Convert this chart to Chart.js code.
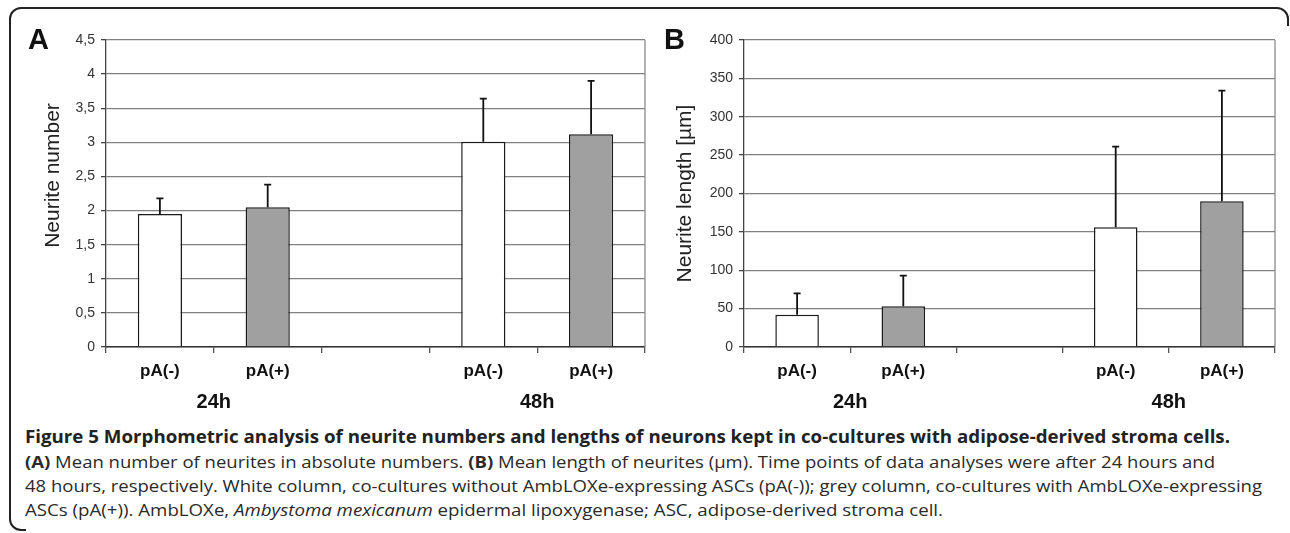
<!DOCTYPE html>
<html>
<head>
<meta charset="utf-8">
<script src="https://cdn.jsdelivr.net/npm/chart.js@4.4.1/dist/chart.umd.min.js"></script>
<style>
    body {
        margin: 0;
        background: #fff;
        width: 1290px;
        height: 533px;
        overflow: hidden;
        position: relative;
        font-family: 'Liberation Sans', Arial, sans-serif;
    }
    .moldura {
        position: absolute;
        left: 9px; top: 7px;
        width: 1276px; height: 520px;
        border: 2px solid #222;
        border-radius: 12px;
    }
    .tampa1 { position: absolute; left: 1278px; top: 26px; width: 12px; height: 507px; background: #fff; }
    .tampa2 { position: absolute; left: 26px; top: 521px; width: 1264px; height: 12px; background: #fff; }
    canvas { position: absolute; top: 0; }
    #graficoA { left: 0; }
    #graficoB { left: 650px; }
    .letra {
        position: absolute;
        top: 25px;
        font: bold 29px/29px 'Liberation Sans', Arial, sans-serif;
        color: #111;
    }
    .linha {
        position: absolute;
        left: 25px;
        font-family: 'Open Sans', sans-serif;
        font-size: 16px;
        line-height: 20px;
        color: #2a2a2a;
        white-space: nowrap;
        transform-origin: left center;
    }
    .titulo { font-weight: bold; font-size: 17px; color: #222; }
</style>
</head>
<body>
<div class="moldura"></div>
<div class="tampa1"></div>
<div class="tampa2"></div>
<canvas id="graficoA" width="650" height="420"></canvas>
<canvas id="graficoB" width="640" height="420"></canvas>
<div class="letra" style="left:28px">A</div>
<div class="letra" style="left:664px">B</div>

<div class="linha titulo" style="top:427px" data-fim="1230">Figure 5 Morphometric analysis of neurite numbers and lengths of neurons kept in co-cultures with adipose-derived stroma cells.</div>
<div class="linha" style="top:452px" data-fim="1215"><b>(A)</b> Mean number of neurites in absolute numbers. <b>(B)</b> Mean length of neurites (µm). Time points of data analyses were after 24 hours and</div>
<div class="linha" style="top:476px" data-fim="1262">48 hours, respectively. White column, co-cultures without AmbLOXe-expressing ASCs (pA(-)); grey column, co-cultures with AmbLOXe-expressing</div>
<div class="linha" style="top:500px" data-fim="943">ASCs (pA(+)). AmbLOXe, <i>Ambystoma mexicanum</i> epidermal lipoxygenase; ASC, adipose-derived stroma cell.</div>

<script>
// Categorias (a terceira é a lacuna entre 24h e 48h)
const categorias = ['pA(-)', 'pA(+)', '', 'pA(-)', 'pA(+)'];
const grupos = ['24h', '48h'];
const gruposIndices = [[0, 1], [3, 4]];
const coresBarras = ['#ffffff', '#a0a0a0', '#ffffff', '#ffffff', '#a0a0a0'];

// Painel A: número de neuritos
const numeroMedias = [1.95, 2.05, null, 3.01, 3.12];
const numeroErroTopo = [2.18, 2.38, null, 3.64, 3.90];
const numeroTicks = ['0', '0,5', '1', '1,5', '2', '2,5', '3', '3,5', '4', '4,5'];

// Painel B: comprimento dos neuritos
const comprimentoMedias = [42, 53, null, 156, 190];
const comprimentoErroTopo = [70, 93, null, 261, 334];
const comprimentoTicks = ['0', '50', '100', '150', '200', '250', '300', '350', '400'];

const fonte = "'Liberation Sans', Arial, sans-serif";

// Ajusta a largura de cada linha da legenda ao original
document.querySelectorAll('.linha').forEach((el) => {
    const alvo = Number(el.dataset.fim) - 25;
    const largura = el.getBoundingClientRect().width;
    el.style.transform = `scaleX(${alvo / largura})`;
});

// Barras de erro (só para cima)
const barrasErro = {
    id: 'barrasErro',
    afterDatasetsDraw(chart, args, opcoes) {
        const { ctx, scales: { y } } = chart;
        const meta = chart.getDatasetMeta(0);
        ctx.save();
        ctx.strokeStyle = '#111';
        ctx.lineWidth = 1.8;
        opcoes.topos.forEach((topo, i) => {
            if (topo == null) return;
            const barra = meta.data[i];
            const yTopo = y.getPixelForValue(topo);
            ctx.beginPath();
            ctx.moveTo(barra.x, barra.y);
            ctx.lineTo(barra.x, yTopo);
            ctx.moveTo(barra.x - 3.5, yTopo);
            ctx.lineTo(barra.x + 3.5, yTopo);
            ctx.stroke();
        });
        ctx.restore();
    }
};

// Rótulos 24h / 48h abaixo das categorias
const rotulosGrupo = {
    id: 'rotulosGrupo',
    afterDraw(chart) {
        const { ctx, scales: { x }, chartArea } = chart;
        ctx.save();
        ctx.font = 'bold 20px ' + fonte;
        ctx.fillStyle = '#111';
        ctx.textAlign = 'center';
        ctx.textBaseline = 'middle';
        grupos.forEach((g, i) => {
            const [a, b] = gruposIndices[i];
            const cx = (x.getPixelForValue(a) + x.getPixelForValue(b)) / 2;
            ctx.fillText(g, cx, chartArea.bottom + 55);
        });
        ctx.restore();
    }
};

// Título do eixo Y (um pouco acima do centro, como no original)
const tituloEixo = {
    id: 'tituloEixo',
    afterDraw(chart, args, opcoes) {
        const { ctx, chartArea } = chart;
        ctx.save();
        ctx.translate(opcoes.x, (chartArea.top + chartArea.bottom) / 2 + opcoes.desvio);
        ctx.rotate(-Math.PI / 2);
        ctx.font = '21px ' + fonte;
        ctx.fillStyle = '#222';
        ctx.textAlign = 'center';
        ctx.textBaseline = 'middle';
        ctx.fillText(opcoes.texto, 0, 0);
        ctx.restore();
    }
};

// Borda direita da área do gráfico
const bordaDireita = {
    id: 'bordaDireita',
    beforeDatasetsDraw(chart) {
        const { ctx, chartArea } = chart;
        ctx.save();
        ctx.strokeStyle = '#8a8a8a';
        ctx.lineWidth = 1.3;
        ctx.beginPath();
        ctx.moveTo(chartArea.right, chartArea.top);
        ctx.lineTo(chartArea.right, chartArea.bottom);
        ctx.stroke();
        ctx.restore();
    }
};

function criarPainel(id, medias, topos, ticks, maximo, passo, tituloY, larguraY, xTitulo, desvioTitulo, padDireita) {
    new Chart(document.getElementById(id), {
        type: 'bar',
        data: {
            labels: categorias,
            datasets: [{
                data: medias,
                backgroundColor: coresBarras,
                borderColor: '#1a1a1a',
                borderWidth: 1.5,
                categoryPercentage: 1,
                barPercentage: 0.41
            }]
        },
        options: {
            responsive: false,
            animation: false,
            layout: { padding: { top: 40, right: padDireita, bottom: 0, left: 0 } },
            plugins: {
                legend: { display: false },
                tooltip: { enabled: false },
                barrasErro: { topos: topos },
                tituloEixo: { texto: tituloY, x: xTitulo, desvio: desvioTitulo }
            },
            scales: {
                x: {
                    grid: { display: true, drawOnChartArea: false, offset: true, tickLength: 6, color: '#555', lineWidth: 1.3 },
                    border: { color: '#333', width: 1.5 },
                    ticks: { color: '#111', font: { family: fonte, size: 17, weight: 'bold' }, padding: 8, maxRotation: 0, autoSkip: false },
                    afterFit: (s) => { s.height = 73; }
                },
                y: {
                    min: 0,
                    max: maximo,
                    ticks: {
                        stepSize: passo,
                        callback: (v, i) => ticks[i],
                        color: '#333',
                        font: { family: fonte, size: 14 },
                        padding: 6
                    },
                    grid: { color: '#808080', lineWidth: 1.3, tickLength: 5, tickColor: '#444' },
                    border: { color: '#444', width: 1.3 },
                    afterFit: (s) => { s.width = larguraY; }
                }
            }
        },
        plugins: [bordaDireita, barrasErro, rotulosGrupo, tituloEixo]
    });
}

criarPainel('graficoA', numeroMedias, numeroErroTopo, numeroTicks, 4.5, 0.5, 'Neurite number', 106, 53, -18, 5);
criarPainel('graficoB', comprimentoMedias, comprimentoErroTopo, comprimentoTicks, 400, 50, 'Neurite length [µm]', 94, 35, 0, 15);
</script>
</body>
</html>
